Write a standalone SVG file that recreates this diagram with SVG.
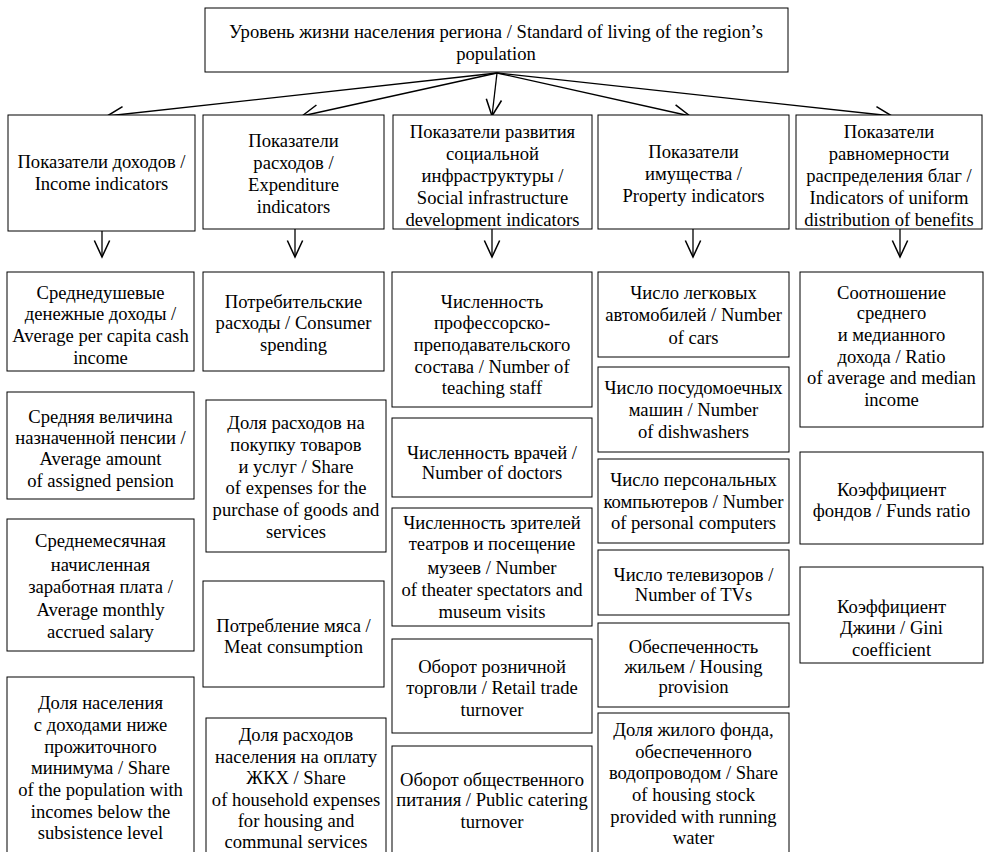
<svg xmlns="http://www.w3.org/2000/svg" width="988" height="852" viewBox="0 0 988 852">
<style>
.b{fill:#fff;stroke:#000;stroke-width:1}
.t{font-family:"Liberation Serif","Times New Roman",serif;font-size:18.6px;text-anchor:middle;fill:#000}
.c{stroke:#000;stroke-width:1.3;fill:none}
</style>
<defs>
<marker id="ah" markerUnits="userSpaceOnUse" markerWidth="20" markerHeight="20" viewBox="-1 -8 17 16" refX="14" refY="0" orient="auto">
<path d="M0,-6.5 L14,0 L0,6.5" fill="none" stroke="#000" stroke-width="1.3"/>
</marker>
</defs>
<rect width="988" height="852" fill="#fff"/>
<g id="connectors">
<line class="c" x1="497" y1="73" x2="107" y2="116" marker-end="url(#ah)"/>
<line class="c" x1="497" y1="73" x2="302" y2="116" marker-end="url(#ah)"/>
<line class="c" x1="497" y1="73" x2="492" y2="116" marker-end="url(#ah)"/>
<line class="c" x1="497" y1="73" x2="690" y2="116" marker-end="url(#ah)"/>
<line class="c" x1="497" y1="73" x2="892" y2="116" marker-end="url(#ah)"/>
<line class="c" x1="102" y1="231" x2="102" y2="257" marker-end="url(#ah)"/>
<line class="c" x1="295" y1="229" x2="295" y2="257" marker-end="url(#ah)"/>
<line class="c" x1="492" y1="229" x2="492" y2="257" marker-end="url(#ah)"/>
<line class="c" x1="693" y1="229" x2="693" y2="257" marker-end="url(#ah)"/>
<line class="c" x1="900" y1="229" x2="900" y2="257" marker-end="url(#ah)"/>
</g>
<g id="root">
<rect class="b" x="205" y="8" width="583" height="64"/>
<text class="t" x="496" y="38">Уровень жизни населения региона / Standard of living of the region’s</text>
<text class="t" x="496" y="60">population</text>
</g>
<g id="h1">
<rect class="b" x="8" y="115" width="187" height="116"/>
<text class="t" x="101.5" y="168">Показатели доходов /</text>
<text class="t" x="101.5" y="190">Income indicators</text>
</g>
<g id="h2">
<rect class="b" x="203" y="115" width="181" height="114"/>
<text class="t" x="293.5" y="147">Показатели</text>
<text class="t" x="293.5" y="169">расходов /</text>
<text class="t" x="293.5" y="191">Expenditure</text>
<text class="t" x="293.5" y="213">indicators</text>
</g>
<g id="h3">
<rect class="b" x="393" y="115" width="199" height="114"/>
<text class="t" x="492.5" y="138">Показатели развития</text>
<text class="t" x="492.5" y="160">социальной</text>
<text class="t" x="492.5" y="182">инфраструктуры /</text>
<text class="t" x="492.5" y="204">Social infrastructure</text>
<text class="t" x="492.5" y="226">development indicators</text>
</g>
<g id="h4">
<rect class="b" x="598" y="115" width="191" height="114"/>
<text class="t" x="693.5" y="158">Показатели</text>
<text class="t" x="693.5" y="180">имущества /</text>
<text class="t" x="693.5" y="202">Property indicators</text>
</g>
<g id="h5">
<rect class="b" x="796" y="115" width="186" height="114"/>
<text class="t" x="889" y="138">Показатели</text>
<text class="t" x="889" y="160">равномерности</text>
<text class="t" x="889" y="182">распределения благ /</text>
<text class="t" x="889" y="204">Indicators of uniform</text>
<text class="t" x="889" y="226">distribution of benefits</text>
</g>
<g id="c1n1">
<rect class="b" x="7" y="272" width="187" height="99"/>
<text class="t" x="100.5" y="299">Среднедушевые</text>
<text class="t" x="100.5" y="320">денежные доходы /</text>
<text class="t" x="100.5" y="342">Average per capita cash</text>
<text class="t" x="100.5" y="364">income</text>
</g>
<g id="c1n2">
<rect class="b" x="7" y="392" width="187" height="107"/>
<text class="t" x="100.5" y="423">Средняя величина</text>
<text class="t" x="100.5" y="444">назначенной пенсии /</text>
<text class="t" x="100.5" y="465">Average amount</text>
<text class="t" x="100.5" y="487">of assigned pension</text>
</g>
<g id="c1n3">
<rect class="b" x="7" y="519" width="187" height="132"/>
<text class="t" x="100.5" y="547">Среднемесячная</text>
<text class="t" x="100.5" y="571">начисленная</text>
<text class="t" x="100.5" y="593">заработная плата /</text>
<text class="t" x="100.5" y="616">Average monthly</text>
<text class="t" x="100.5" y="638">accrued salary</text>
</g>
<g id="c1n4">
<rect class="b" x="7" y="677" width="187" height="185"/>
<text class="t" x="100.5" y="709">Доля населения</text>
<text class="t" x="100.5" y="731">с доходами ниже</text>
<text class="t" x="100.5" y="753">прожиточного</text>
<text class="t" x="100.5" y="774">минимума / Share</text>
<text class="t" x="100.5" y="796">of the population with</text>
<text class="t" x="100.5" y="818">incomes below the</text>
<text class="t" x="100.5" y="839">subsistence level</text>
</g>
<g id="c2n1">
<rect class="b" x="203" y="272" width="181" height="99"/>
<text class="t" x="293.5" y="308">Потребительские</text>
<text class="t" x="293.5" y="329">расходы / Consumer</text>
<text class="t" x="293.5" y="351">spending</text>
</g>
<g id="c2n2">
<rect class="b" x="206" y="400" width="180" height="152"/>
<text class="t" x="296" y="429">Доля расходов на</text>
<text class="t" x="296" y="451">покупку товаров</text>
<text class="t" x="296" y="473">и услуг / Share</text>
<text class="t" x="296" y="494">of expenses for the</text>
<text class="t" x="296" y="516">purchase of goods and</text>
<text class="t" x="296" y="538">services</text>
</g>
<g id="c2n3">
<rect class="b" x="203" y="581" width="181" height="106"/>
<text class="t" x="293.5" y="632">Потребление мяса /</text>
<text class="t" x="293.5" y="653">Meat consumption</text>
</g>
<g id="c2n4">
<rect class="b" x="206" y="718" width="180" height="144"/>
<text class="t" x="296" y="741">Доля расходов</text>
<text class="t" x="296" y="763">населения на оплату</text>
<text class="t" x="296" y="784">ЖКХ / Share</text>
<text class="t" x="296" y="806">of household expenses</text>
<text class="t" x="296" y="827">for housing and</text>
<text class="t" x="296" y="848">communal services</text>
</g>
<g id="c3n1">
<rect class="b" x="392" y="272" width="200" height="135"/>
<text class="t" x="492" y="308">Численность</text>
<text class="t" x="492" y="329">профессорско-</text>
<text class="t" x="492" y="351">преподавательского</text>
<text class="t" x="492" y="373">состава / Number of</text>
<text class="t" x="492" y="394">teaching staff</text>
</g>
<g id="c3n2">
<rect class="b" x="392" y="418" width="200" height="79"/>
<text class="t" x="492" y="459">Численность врачей /</text>
<text class="t" x="492" y="479">Number of doctors</text>
</g>
<g id="c3n3">
<rect class="b" x="392" y="508" width="200" height="118"/>
<text class="t" x="492" y="529">Численность зрителей</text>
<text class="t" x="492" y="550">театров и посещение</text>
<text class="t" x="492" y="574">музеев / Number</text>
<text class="t" x="492" y="596">of theater spectators and</text>
<text class="t" x="492" y="618">museum visits</text>
</g>
<g id="c3n4">
<rect class="b" x="392" y="639" width="200" height="94"/>
<text class="t" x="492" y="673">Оборот розничной</text>
<text class="t" x="492" y="694">торговли / Retail trade</text>
<text class="t" x="492" y="716">turnover</text>
</g>
<g id="c3n5">
<rect class="b" x="392" y="746" width="200" height="116"/>
<text class="t" x="492" y="786">Оборот общественного</text>
<text class="t" x="492" y="806">питания / Public catering</text>
<text class="t" x="492" y="828">turnover</text>
</g>
<g id="c4n1">
<rect class="b" x="598" y="272" width="191" height="85"/>
<text class="t" x="693.5" y="299">Число легковых</text>
<text class="t" x="693.5" y="321">автомобилей / Number</text>
<text class="t" x="693.5" y="344">of cars</text>
</g>
<g id="c4n2">
<rect class="b" x="598" y="367" width="191" height="85"/>
<text class="t" x="693.5" y="394">Число посудомоечных</text>
<text class="t" x="693.5" y="416">машин / Number</text>
<text class="t" x="693.5" y="438">of dishwashers</text>
</g>
<g id="c4n3">
<rect class="b" x="598" y="459" width="191" height="84"/>
<text class="t" x="693.5" y="486">Число персональных</text>
<text class="t" x="693.5" y="508">компьютеров / Number</text>
<text class="t" x="693.5" y="529">of personal computers</text>
</g>
<g id="c4n4">
<rect class="b" x="598" y="550" width="191" height="65"/>
<text class="t" x="693.5" y="581">Число телевизоров /</text>
<text class="t" x="693.5" y="601">Number of TVs</text>
</g>
<g id="c4n5">
<rect class="b" x="598" y="623" width="191" height="84"/>
<text class="t" x="693.5" y="653">Обеспеченность</text>
<text class="t" x="693.5" y="673">жильем / Housing</text>
<text class="t" x="693.5" y="693">provision</text>
</g>
<g id="c4n6">
<rect class="b" x="598" y="713" width="191" height="149"/>
<text class="t" x="693.5" y="736">Доля жилого фонда,</text>
<text class="t" x="693.5" y="758">обеспеченного</text>
<text class="t" x="693.5" y="779">водопроводом / Share</text>
<text class="t" x="693.5" y="801">of housing stock</text>
<text class="t" x="693.5" y="823">provided with running</text>
<text class="t" x="693.5" y="844">water</text>
</g>
<g id="c5n1">
<rect class="b" x="800" y="272" width="183" height="155"/>
<text class="t" x="891.5" y="299">Соотношение</text>
<text class="t" x="891.5" y="319">среднего</text>
<text class="t" x="891.5" y="341">и медианного</text>
<text class="t" x="891.5" y="363">дохода / Ratio</text>
<text class="t" x="891.5" y="384">of average and median</text>
<text class="t" x="891.5" y="406">income</text>
</g>
<g id="c5n2">
<rect class="b" x="800" y="452" width="183" height="92"/>
<text class="t" x="891.5" y="496">Коэффициент</text>
<text class="t" x="891.5" y="517">фондов / Funds ratio</text>
</g>
<g id="c5n3">
<rect class="b" x="800" y="567" width="183" height="96"/>
<text class="t" x="891.5" y="613">Коэффициент</text>
<text class="t" x="891.5" y="634">Джини / Gini</text>
<text class="t" x="891.5" y="656">coefficient</text>
</g>
</svg>
